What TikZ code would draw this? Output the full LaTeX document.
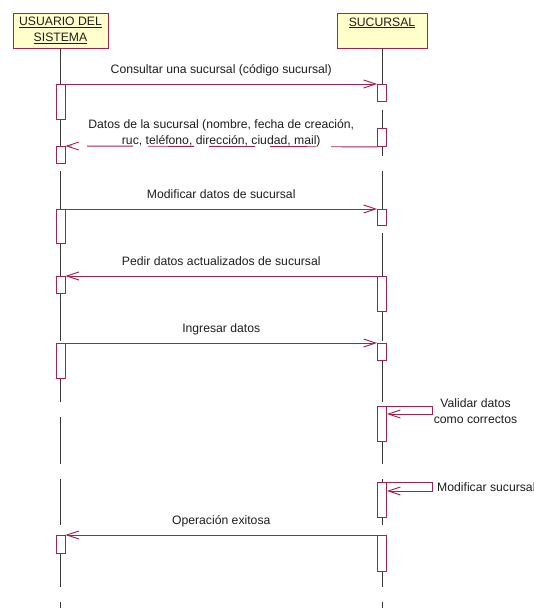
\documentclass[tikz,border=0pt]{standalone}
\usepackage{fontspec}
\setmainfont{Liberation Sans}
\usetikzlibrary{arrows.meta}
\definecolor{umlred}{RGB}{168,32,76}
\definecolor{hdrfill}{RGB}{255,255,204}
\definecolor{lifegray}{RGB}{55,55,55}
\definecolor{txt}{RGB}{30,30,30}
\begin{document}
\begin{tikzpicture}[x=1pt,y=-1pt,
  font=\fontsize{12.2}{15.5}\selectfont,
  hdr/.style={draw=umlred, fill=hdrfill, line width=0.9pt, minimum height=35pt,
    align=center, inner sep=0pt, text=txt},
  lifeline/.style={draw=lifegray, line width=0.9pt, dash pattern=on 46.5pt off 15pt},
  act/.style={draw=umlred, fill=white, line width=0.9pt, minimum width=9pt,
    inner sep=0pt, anchor=north},
  msg/.style={draw=umlred, line width=0.9pt, -{Straight Barb[length=12pt,width=8pt]}},
  note/.style={text=txt, inner sep=0pt},
  lbl/.style={note, anchor=base, yshift=11pt},
]
\useasboundingbox (0,0) rectangle (534,608);

% object headers
\node[hdr, minimum width=95pt] (usr) at (60.5,30.5) {\underline{USUARIO DEL}\\\underline{SISTEMA}};
\node[hdr, minimum width=90pt, text depth=17.5pt] (suc) at (382,30.5) {\underline{SUCURSAL}};

% lifelines
\coordinate (uend) at (60.5,608);
\coordinate (send) at (382,608);
\draw[lifeline] (usr.south) -- (uend);
\draw[lifeline] (suc.south) -- (send);

% activation bars
\node[act, minimum height=35pt] (a1l) at (60.5,84) {};
\node[act, minimum height=17pt] (a1r) at (382,84) {};
\node[act, minimum height=18pt] (a2r) at (382,128) {};
\node[act, minimum height=17pt] (a2l) at (60.5,146) {};
\node[act, minimum height=34pt] (a3l) at (60.5,209) {};
\node[act, minimum height=16pt] (a3r) at (382,209) {};
\node[act, minimum height=35pt] (a4r) at (382,276) {};
\node[act, minimum height=17pt] (a4l) at (60.5,276) {};
\node[act, minimum height=35pt] (a5l) at (60.5,343) {};
\node[act, minimum height=17pt] (a5r) at (382,343) {};
\node[act, minimum height=35pt] (a6r) at (382,406) {};
\node[act, minimum height=35pt] (a7r) at (382,482) {};
\node[act, minimum height=36pt] (a8r) at (382,535) {};
\node[act, minimum height=18pt] (a8l) at (60.5,535) {};

% messages
\draw[msg] (a1l.north east) -- (a1r.north west)
  node[lbl, midway] {Consultar una sucursal (código sucursal)};
\draw[msg, dash pattern=on 46pt off 15pt] (a2r.south west) -- (a2l.north east)
  node[note, midway, anchor=base, align=center, yshift=2pt] {Datos de la sucursal (nombre, fecha de creación,\\ruc, teléfono, dirección, ciudad, mail)};
\draw[msg] (a3l.north east) -- (a3r.north west)
  node[lbl, midway] {Modificar datos de sucursal};
\draw[msg] (a4r.north west) -- (a4l.north east)
  node[lbl, midway] {Pedir datos actualizados de sucursal};
\draw[msg] (a5l.north east) -- (a5r.north west)
  node[lbl, midway] {Ingresar datos};

% self calls
\coordinate (v1) at (432,406);
\coordinate (v2) at (432,414);
\draw[msg] (a6r.north east) -- (v1) -- (v2) -- (a6r.east |- v2);
\node[note, align=center, anchor=base] (lv) at (475.5,423) {Validar datos\\como correctos};

\coordinate (m1) at (432,482);
\coordinate (m2) at (432,491);
\draw[msg] (a7r.north east) -- (m1) -- (m2) -- (a7r.east |- m2);
\node[note, anchor=base west] (lm) at (437,491) {Modificar sucursal};

\draw[msg] (a8r.north west) -- (a8l.north east)
  node[lbl, midway] {Operación exitosa};
\end{tikzpicture}
\end{document}
